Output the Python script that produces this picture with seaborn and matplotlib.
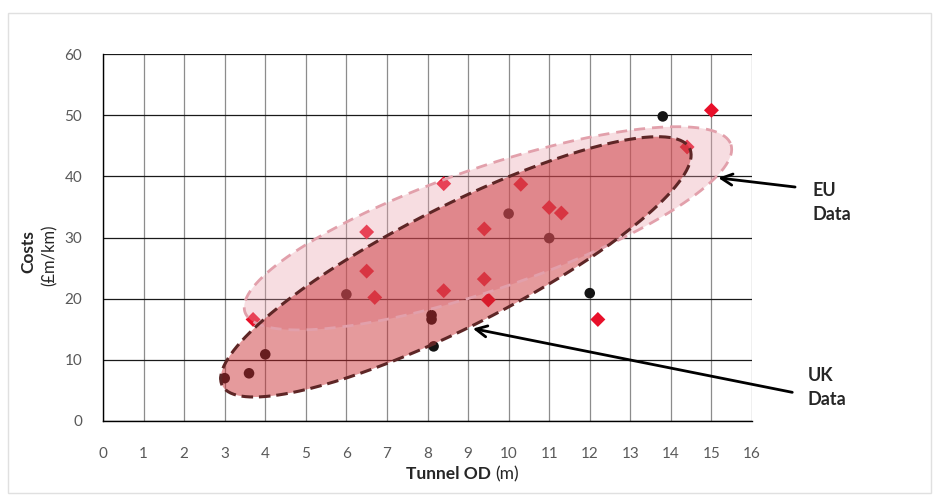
import numpy as np
import pandas as pd
import seaborn as sns
import matplotlib.pyplot as plt
from matplotlib.patches import Rectangle

# UK data (circles)
uk_od = [3.0, 3.6, 4.0, 6.0, 8.1, 8.1, 8.15, 10.0, 11.0, 12.0, 13.8]
uk_cost = [7.0, 7.8, 10.9, 20.7, 17.3, 16.6, 12.2, 33.9, 29.9, 20.9, 49.8]

# EU data (diamonds)
eu_od = [3.7, 6.5, 6.5, 6.7, 8.4, 8.4, 9.4, 9.4, 9.5, 10.3, 11.0, 11.3, 12.2, 14.4, 15.0]
eu_cost = [16.6, 30.9, 24.5, 20.2, 21.3, 38.8, 31.4, 23.2, 19.8, 38.7, 34.9, 34.0, 16.6, 44.8, 50.8]

# envelopes: centre and two half-axis vectors (data units)
uk_centre, uk_u, uk_v = (8.7, 25.2), (5.76, 19.4), (0.67, -8.74)
eu_centre, eu_u, eu_v = (9.49, 31.5), (5.99, 13.7), (0.48, -9.4)

df = pd.DataFrame({
    'OD': uk_od + eu_od,
    'Cost': uk_cost + eu_cost,
    'Source': ['UK'] * len(uk_od) + ['EU'] * len(eu_od),
})

sns.set_style('white')
plt.rcParams['font.family'] = ['Lato', 'DejaVu Sans']

fig = plt.figure(figsize=(9.34, 4.95), dpi=100)
fig.patches.append(Rectangle((8 / 934, 1 - 493 / 495), 923 / 934, 480 / 495,
                             transform=fig.transFigure, fill=False,
                             edgecolor='#e0e0e0', lw=1))
ax = fig.add_axes([103 / 934, 1 - 421 / 495, 649 / 934, 367 / 495])

sns.scatterplot(data=df, x='OD', y='Cost', hue='Source', style='Source',
                palette={'UK': '#141414', 'EU': '#e8102a'},
                markers={'UK': 'o', 'EU': 'D'}, s=58, linewidth=0,
                legend=False, ax=ax, zorder=2)


def ellipse(centre, u, v, n=300):
    t = np.linspace(0, 2 * np.pi, n)
    x = centre[0] + u[0] * np.cos(t) + v[0] * np.sin(t)
    y = centre[1] + u[1] * np.cos(t) + v[1] * np.sin(t)
    return x, y


ex, ey = ellipse(eu_centre, eu_u, eu_v)
ux, uy = ellipse(uk_centre, uk_u, uk_v)
ax.fill(ex, ey, color='#eaa0aa', alpha=0.35, lw=0, zorder=3)
ax.fill(ux, uy, color='#c8282d', alpha=0.47, lw=0, zorder=4)
ax.plot(ex, ey, color='#e2a0ab', lw=2, dashes=(4, 2.5), zorder=5)
ax.plot(ux, uy, color='#5e2626', lw=2.2, dashes=(3.8, 1.9), zorder=6)

ax.set_xlim(0, 16)
ax.set_ylim(0, 60)
ax.set_xticks(range(0, 17))
ax.set_yticks(range(0, 61, 10))
ax.set_axisbelow(True)
ax.xaxis.grid(True, color='#8c8c8c', lw=0.9)
ax.yaxis.grid(True, color='#1a1a1a', lw=0.9)
for side in ['top', 'right']:
    ax.spines[side].set_visible(False)
for side in ['left', 'bottom']:
    ax.spines[side].set_color('black')
    ax.spines[side].set_linewidth(1)
ax.tick_params(axis='both', direction='out', length=5, width=1, color='black',
               labelsize=11, labelcolor='#595959')
ax.tick_params(axis='x', pad=14)
ax.tick_params(axis='y', pad=10)
ax.set_xlabel('')
ax.set_ylabel('')

# axis titles
fig.text(491 / 934, 1 - 474 / 495, 'Tunnel OD', ha='right', va='center',
         fontsize=12.5, fontweight='bold')
fig.text(495 / 934, 1 - 474 / 495, '(m)', ha='left', va='center', fontsize=12.5)
fig.text(28 / 934, 1 - 252 / 495, 'Costs', ha='center', va='center',
         rotation=90, fontsize=12.5, fontweight='bold')
fig.text(50 / 934, 1 - 255 / 495, '(£m/km)', ha='center', va='center',
         rotation=90, fontsize=12)

# call-outs
arrow = dict(arrowstyle='->', lw=2, color='black', mutation_scale=20)
ax.annotate('', xy=(15.1, 39.8), xytext=(17.13, 38.2), arrowprops=arrow,
            annotation_clip=False)
ax.annotate('', xy=(9.05, 15.2), xytext=(17.06, 4.6), arrowprops=arrow,
            annotation_clip=False)
ax.text(17.48, 35.8, 'EU\nData', ha='left', va='center', fontsize=13,
        fontweight='bold', linespacing=1.5, clip_on=False)
ax.text(17.38, 5.4, 'UK\nData', ha='left', va='center', fontsize=13,
        fontweight='bold', linespacing=1.5, clip_on=False)

fig.savefig('out.png', dpi=100)
